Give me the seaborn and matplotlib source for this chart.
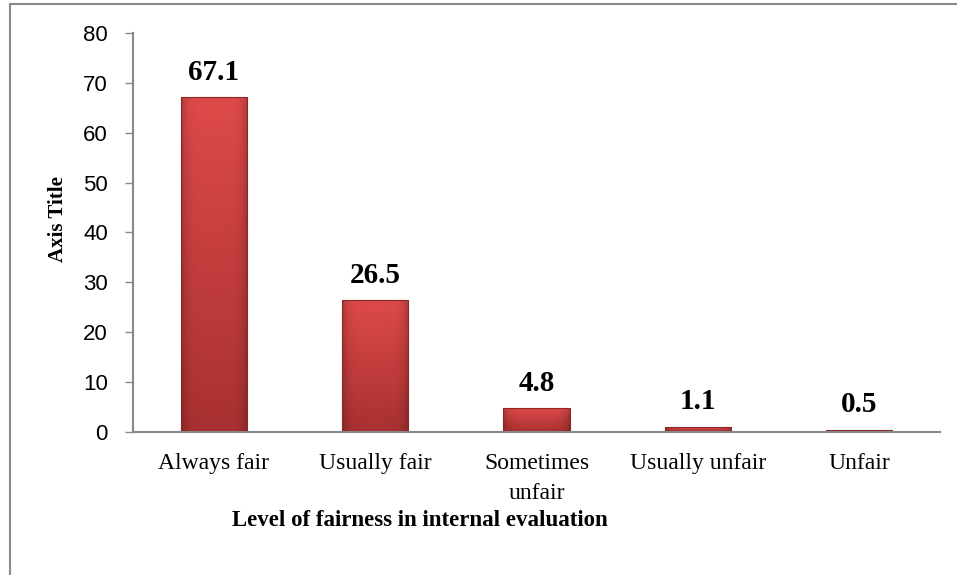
import matplotlib
matplotlib.use("Agg")
import matplotlib.pyplot as plt
import seaborn as sns
import numpy as np
import pandas as pd
from matplotlib.patches import Rectangle

categories = ["Always fair", "Usually fair", "Sometimes\nunfair", "Usually unfair", "Unfair"]
values = [67.1, 26.5, 4.8, 1.1, 0.5]
yticks = [0, 10, 20, 30, 40, 50, 60, 70, 80]

df = pd.DataFrame({"level": categories, "pct": values})

sns.set_style("white")
plt.rcParams["text.color"] = "black"
plt.rcParams["xtick.color"] = "black"
plt.rcParams["ytick.color"] = "black"
plt.rcParams["axes.labelcolor"] = "black"

fig = plt.figure(figsize=(9.57, 5.75), dpi=100)
ax = fig.add_axes([133 / 957, 1 - 432 / 575, 807 / 957, 399 / 575])

sns.barplot(data=df, x="level", y="pct", color="#C63C3D", width=0.41,
            edgecolor="#8E2626", linewidth=0.8, saturation=1, ax=ax)

# shaded fill for the bars (light top, darker bottom and sides)
top = np.array([0.87, 0.29, 0.29])
bot = np.array([0.66, 0.19, 0.19])
t = np.linspace(1, 0, 100)[:, None, None]
u = np.linspace(-1, 1, 60)[None, :, None]
grad = (bot + (top - bot) * t) * (1 - 0.22 * np.abs(u) ** 6)
for p in list(ax.patches):
    x0, y0 = p.get_x(), p.get_y()
    w, h = p.get_width(), p.get_height()
    im = ax.imshow(grad, extent=[x0, x0 + w, y0, y0 + h], aspect="auto",
                   zorder=p.get_zorder(), interpolation="bilinear")
    im.set_clip_path(p)
    p.set_facecolor("none")
    p.set_zorder(p.get_zorder() + 0.1)

for c in ax.containers:
    ax.bar_label(c, labels=[f"{v:.1f}" for v in values], padding=8,
                 fontsize=21, fontweight="bold", family="Liberation Serif")

ax.set_xlim(-0.5, len(categories) - 0.5)
ax.set_ylim(0, 80)
ax.set_yticks(yticks)
ax.set_yticklabels([str(t) for t in yticks], fontsize=16, family="Liberation Sans")
ax.set_xticks(range(len(categories)))
ax.set_xticklabels(categories, fontsize=17, family="Liberation Serif", linespacing=1.6)
ax.tick_params(axis="y", length=6, width=1, color="#888888", pad=12, left=True)
ax.tick_params(axis="x", length=0, pad=15)

for side in ["top", "right"]:
    ax.spines[side].set_visible(False)
for side in ["left", "bottom"]:
    ax.spines[side].set_color("#888888")
    ax.spines[side].set_linewidth(1.5)

ax.set_ylabel("Axis Title", fontsize=15, fontweight="bold", family="Liberation Serif")
ax.yaxis.set_label_coords(-0.081, 0.534)
ax.set_xlabel("Level of fairness in internal evaluation", fontsize=16.5,
              fontweight="bold", family="Liberation Serif")
ax.xaxis.set_label_coords(0.356, -0.195)

fig.patches.append(Rectangle((9.5 / 957, -0.05), 1.2, 1.05 - 4.5 / 575,
                             transform=fig.transFigure, fill=False,
                             edgecolor="#8a8a8a", linewidth=1.5))

fig.savefig("out.png", dpi=100)
